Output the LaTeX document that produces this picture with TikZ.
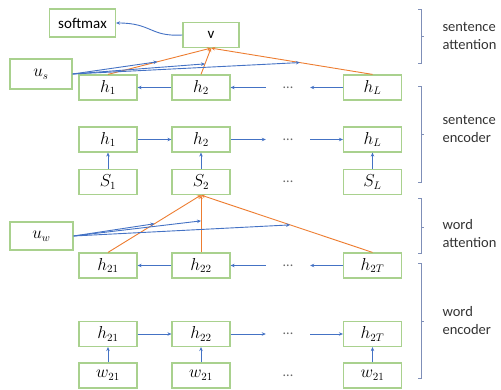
\documentclass[tikz,border=0pt]{standalone}
\usepackage{fontspec}
\setmainfont{Carlito}
\usetikzlibrary{arrows.meta, positioning, calc}
\definecolor{hanblue}{HTML}{4472C4}
\definecolor{hanorange}{HTML}{ED7D31}
\definecolor{hangreen}{HTML}{A9D18E}
\definecolor{hangray}{HTML}{7F8FB8}

\begin{document}
\begin{tikzpicture}[
  x=1pt, y=-1pt,
  cell/.style={draw=hangreen, line width=1.2pt, minimum width=58pt,
    minimum height=25pt, inner sep=0pt, font=\fontsize{16}{18}\selectfont},
  dots/.style={minimum width=44pt, inner sep=0pt, text=black!60,
    font=\fontsize{14}{16}\selectfont},
  link/.style={-{Stealth[length=4pt, width=3.5pt]}, hanblue, line width=0.9pt},
  att/.style={-{Stealth[length=4pt, width=3.5pt]}, hanorange, line width=0.9pt},
  brk/.style={hangray, line width=0.9pt},
  lbl/.style={align=left, anchor=west, text=black!80,
    font=\fontsize{14.5}{18}\selectfont},
  >=Stealth
]
  \useasboundingbox (0,0) rectangle (501,390);

  % Top: softmax, v and query vector
  \node[cell, minimum width=66pt, minimum height=28pt,
    font=\fontsize{15}{17}\selectfont] (softmax) at (82.5,23) {softmax};
  \node[cell, minimum width=56pt, font=\fontsize{15}{17}\selectfont] (v) at (211,35) {v};
  \node[cell, minimum width=62pt, minimum height=30pt] (us) at (41,74) {$u_s$};

  % Sentence level
  \foreach \n/\x/\t in {1/108/1, 2/201/2, L/372.5/L} {
    \node[cell] (sa\n) at (\x,87.5) {$h_{\t}$};
    \node[cell] (se\n) at (\x,139.5) {$h_{\t}$};
    \node[cell] (s\n) at (\x,182) {$S_{\t}$};
  }
  \node[dots] (dA) at (288,87.5) {...};
  \node[dots] (dB) at (288,139.5) {...};
  \node[dots] (dC) at (288,182) {...};

  % Word level
  \node[cell, minimum width=63pt, minimum height=28pt] (uw) at (41.5,236) {$u_w$};
  \foreach \n/\x/\t in {1/108/21, 2/201/22, T/372.5/2T} {
    \node[cell] (wa\n) at (\x,265.5) {$h_{\t}$};
    \node[cell] (we\n) at (\x,334) {$h_{\t}$};
    \node[cell] (w\n) at (\x,375.5) {$w_{21}$};
  }
  \node[dots] (dD) at (288,265.5) {...};
  \node[dots] (dE) at (288,334) {...};
  \node[dots] (dF) at (288,375.5) {...};

  % Recurrent links
  \draw[link] (sa2) -- (sa1);
  \draw[link] (dA) -- (sa2);
  \draw[link] (saL) -- (dA);
  \draw[link] (se1) -- (se2);
  \draw[link] (se2) -- (dB);
  \draw[link] (dB) -- (seL);
  \draw[link] (wa2) -- (wa1);
  \draw[link] (dD) -- (wa2);
  \draw[link] (waT) -- (dD);
  \draw[link] (we1) -- (we2);
  \draw[link] (we2) -- (dE);
  \draw[link] (dE) -- (weT);
  \foreach \n in {1,2,L} \draw[link] (s\n) -- (se\n);
  \foreach \n in {1,2,T} \draw[link] (w\n) -- (we\n);

  % Sentence attention
  \draw[att] (sa1.north) -- coordinate[pos=0.48] (ma1) (v.south);
  \draw[att] (sa2.north) -- coordinate[pos=0.40] (ma2) (v.south);
  \draw[att] (saL.north) -- coordinate[pos=0.45] (maL) (v.south);
  \foreach \m in {ma1, ma2, maL} \draw[link] (us.east) -- (\m);
  \draw[link] (v.west) .. controls (150,37) and (152,23) .. (softmax.east);

  % Word attention
  \draw[att] (wa1.north) -- coordinate[pos=0.50] (mw1) (s2.south);
  \draw[att] (wa2.north) -- coordinate[pos=0.55] (mw2) (s2.south);
  \draw[att] (waT.north) -- coordinate[pos=0.48] (mwT) (s2.south);
  \foreach \m in {mw1, mw2, mwT} \draw[link] (uw.east) -- (\m);

  % Brackets and level names
  \foreach \t/\m/\b in {9/36/63, 86/134/182, 198/227/253, 263/321/378}
    \draw[brk] (418,\t) -- (421,\t) -- (421,\b) -- (418,\b)
      (421,\m) -- (424,\m);
  \node[lbl] (lsa) at (439,36) {sentence\\attention};
  \node[lbl] (lse) at (439,129) {sentence\\encoder};
  \node[lbl] (lwa) at (439,234) {word\\attention};
  \node[lbl] (lwe) at (439,321) {word\\encoder};
\end{tikzpicture}
\end{document}
